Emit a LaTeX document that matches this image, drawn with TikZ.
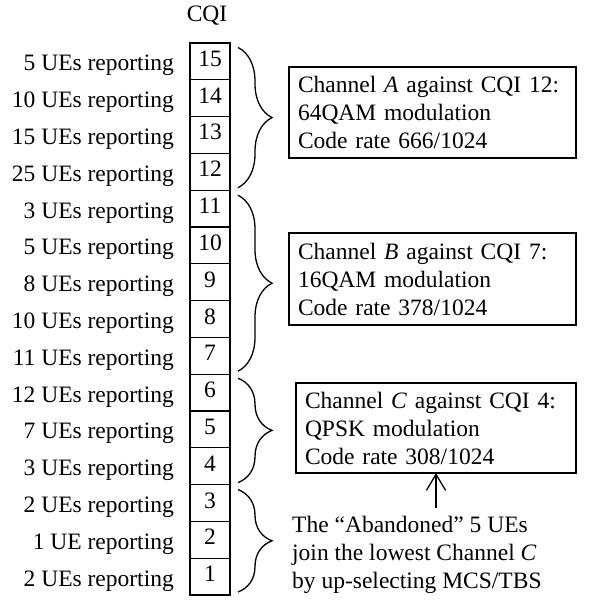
\documentclass[tikz,border=0pt]{standalone}
\usepackage{fontspec}
\setmainfont{Liberation Serif}
\usetikzlibrary{decorations.pathreplacing,arrows.meta}
\begin{document}
\begin{tikzpicture}[x=1pt,y=-1pt,
  every node/.style={font=\fontsize{23.5}{28}\selectfont},
  cell/.style={draw, line width=1.3pt, minimum width=40pt, minimum height=36.8pt, inner sep=0pt, outer sep=0pt},
  lbl/.style={anchor=base east, inner sep=0pt},
  num/.style={anchor=base, inner sep=0pt},
  chbox/.style={draw, line width=1.3pt, align=left, inner xsep=9pt, inner ysep=0pt, outer sep=0pt},
  grp/.style={decorate, decoration={brace, amplitude=34pt}, line width=1.3pt},
  arr/.style={line width=1.3pt, -{Straight Barb[length=16pt,width=19pt]}}
]
\useasboundingbox (0,0) rectangle (589,601);
\node[num] (cqi) at (207,21.7) {CQI};
\foreach \k/\t [count=\i from 0] in {15/5 UEs reporting,14/10 UEs reporting,13/15 UEs reporting,12/25 UEs reporting,11/3 UEs reporting,10/5 UEs reporting,9/8 UEs reporting,8/10 UEs reporting,7/11 UEs reporting,6/12 UEs reporting,5/7 UEs reporting,4/3 UEs reporting,3/2 UEs reporting,2/1 UE reporting,1/2 UEs reporting} {
  \pgfmathsetmacro\c{43+(\i+0.5)*36.8}
  \node[cell] (q\k) at (210,\c) {};
  \node[num] (n\k) at (210,\c+5) {\k};
  \node[lbl] (l\k) at (174,\c+9.5) {\t};
}
\node[chbox, text width=269pt, minimum height=91pt] (boxA) at (432.5,112.5)
  {Channel \textit{A} against CQI 12:\\64QAM modulation\\Code rate 666/1024};
\node[chbox, text width=269pt, minimum height=92pt] (boxB) at (432.5,279)
  {Channel \textit{B} against CQI 7:\\16QAM modulation\\Code rate 378/1024};
\node[chbox, text width=262pt, minimum height=90pt] (boxC) at (436,428)
  {Channel \textit{C} against CQI 4:\\QPSK modulation\\Code rate 308/1024};
\node[anchor=north west, inner sep=0pt, align=left] (note) at (292,516)
  {The “Abandoned” 5 UEs\\join the lowest Channel \textit{C}\\by up-selecting MCS/TBS};
\coordinate (arrstart) at ([yshift=8pt]note.north);
\draw[arr] (arrstart -| boxC.south) -- (boxC.south);
\draw[grp] ([yshift=-4.5pt,xshift=8pt]q15.north east) -- ([yshift=2.5pt,xshift=8pt]q12.south east);
\draw[grp] ([yshift=-5pt,xshift=8pt]q11.north east) -- ([yshift=3pt,xshift=8pt]q7.south east);
\draw[grp] ([yshift=-4pt,xshift=8pt]q6.north east) -- ([yshift=2pt,xshift=8pt]q4.south east);
\draw[grp] ([yshift=-5pt,xshift=8pt]q3.north east) -- ([yshift=3pt,xshift=8pt]q1.south east);
\end{tikzpicture}
\end{document}
